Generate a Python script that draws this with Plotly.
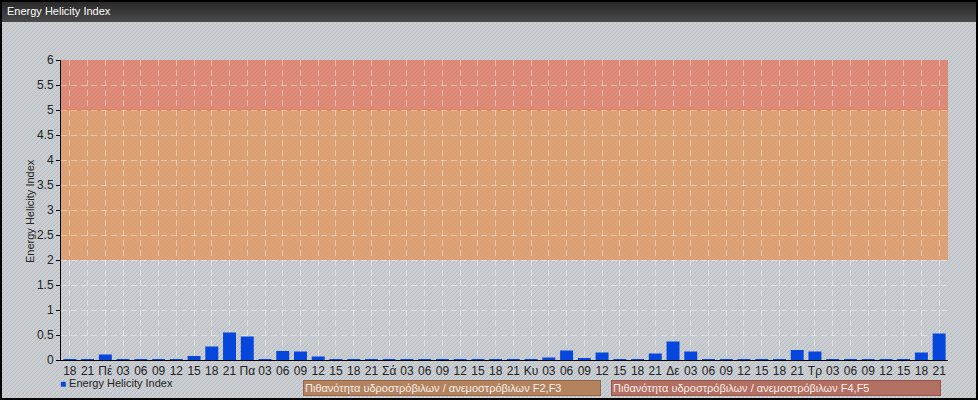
import base64
import plotly.graph_objects as go

# ---- data ----
tick_labels = ["18", "21",
               "Πέ", "03", "06", "09", "12", "15", "18", "21",
               "Πα", "03", "06", "09", "12", "15", "18", "21",
               "Σά", "03", "06", "09", "12", "15", "18", "21",
               "Κυ", "03", "06", "09", "12", "15", "18", "21",
               "Δε", "03", "06", "09", "12", "15", "18", "21",
               "Τρ", "03", "06", "09", "12", "15", "18", "21"]
ehi_values = [0.02, 0.02,
              0.11, 0.02, 0.02, 0.02, 0.02, 0.08, 0.27, 0.55,
              0.47, 0.02, 0.18, 0.17, 0.07, 0.02, 0.02, 0.02,
              0.02, 0.02, 0.02, 0.02, 0.02, 0.02, 0.02, 0.02,
              0.02, 0.05, 0.19, 0.04, 0.15, 0.02, 0.02, 0.13,
              0.37, 0.17, 0.02, 0.02, 0.02, 0.02, 0.02, 0.20,
              0.17, 0.02, 0.02, 0.02, 0.02, 0.02, 0.15, 0.53]
x_pos = list(range(len(tick_labels)))

band_f2f3 = (2, 5)
band_f4f5 = (5, 6)
series_name = "Energy Helicity Index"
chart_title = "Energy Helicity Index"
y_title = "Energy Helicity Index"
band_names = ["Πιθανότητα υδροστρόβιλων / ανεμοστρόβιλων F2,F3",
              "Πιθανότητα υδροστρόβιλων / ανεμοστρόβιλων F4,F5"]

W, H = 978, 400
L, R, T, B = 61, 30, 60, 40
PW, PH = W - L - R, H - T - B
BAR_COLOR = "#0547dc"
FONT = "Liberation Sans, Arial"

def px_x(p):
    return (p - L) / PW

def px_y(p):
    return (H - B - p) / PH

# background: hatched grey, dark title bar, black frame
svg = f'''<svg xmlns="http://www.w3.org/2000/svg" width="{W}" height="{H}" viewBox="0 0 {W} {H}">
<defs>
<pattern id="h" width="4" height="4" patternUnits="userSpaceOnUse">
<rect width="4" height="4" fill="#cbcfd3"/>
<path d="M-1,1 l2,-2 M0,4 l4,-4 M3,5 l2,-2" stroke="#b6bbc0" stroke-width="1"/>
</pattern>
<linearGradient id="g" x1="0" y1="0" x2="0" y2="1">
<stop offset="0" stop-color="#262626"/><stop offset="1" stop-color="#4a4a4a"/>
</linearGradient>
</defs>
<rect width="{W}" height="{H}" fill="url(#h)"/>
<rect width="{W}" height="22" fill="url(#g)"/>
<rect x="1" y="1" width="{W-2}" height="{H-2}" fill="none" stroke="#000" stroke-width="2"/>
</svg>'''
src = "data:image/svg+xml;base64," + base64.b64encode(svg.encode()).decode()

fig = go.Figure()
fig.add_trace(go.Bar(x=x_pos, y=ehi_values, name=series_name,
                     marker=dict(color=BAR_COLOR, line=dict(width=0)),
                     showlegend=False))

shapes = [
    dict(type="rect", xref="x", yref="y", x0=-0.5, x1=len(x_pos) - 0.5,
         y0=band_f2f3[0], y1=band_f2f3[1], fillcolor="rgba(226,150,92,0.78)",
         line=dict(width=0), layer="below"),
    dict(type="rect", xref="x", yref="y", x0=-0.5, x1=len(x_pos) - 0.5,
         y0=band_f4f5[0], y1=band_f4f5[1], fillcolor="rgba(228,114,86,0.72)",
         line=dict(width=0), layer="below"),
    dict(type="line", xref="x", yref="y", x0=-0.5, x1=len(x_pos) - 0.5,
         y0=band_f4f5[0], y1=band_f4f5[0], line=dict(color="rgba(232,110,60,0.8)", width=1),
         layer="below"),
]

annotations = [
    dict(text=chart_title, xref="paper", yref="paper",
         x=px_x(5), y=px_y(11), xanchor="left", yanchor="middle", showarrow=False,
         font=dict(family=FONT, size=11, color="#ffffff")),
    dict(text=y_title, xref="paper", yref="paper", textangle=-90,
         x=px_x(30), y=px_y(211), xanchor="center", yanchor="middle", showarrow=False,
         font=dict(family=FONT, size=11, color="#222222")),
    dict(text=f"<span style='color:{BAR_COLOR};font-size:10px'>■</span> {series_name}",
         xref="paper", yref="paper",
         x=px_x(58), y=px_y(383), xanchor="left", yanchor="middle", showarrow=False,
         font=dict(family=FONT, size=11, color="#222222")),
    dict(text=band_names[0], xref="paper", yref="paper",
         x=px_x(303), y=px_y(380), xanchor="left", yanchor="top", showarrow=False,
         align="left", width=294, height=12, borderpad=1, borderwidth=1,
         bgcolor="#b3835f", bordercolor="#946648",
         font=dict(family=FONT, size=11, color="#f6eee8")),
    dict(text=band_names[1], xref="paper", yref="paper",
         x=px_x(611), y=px_y(380), xanchor="left", yanchor="top", showarrow=False,
         align="left", width=326, height=12, borderpad=1, borderwidth=1,
         bgcolor="#b36f62", bordercolor="#95564b",
         font=dict(family=FONT, size=11, color="#f6eee8")),
]

fig.update_layout(
    width=W, height=H,
    margin=dict(l=L, r=R, t=T, b=B, pad=0),
    paper_bgcolor="#cbcfd3", plot_bgcolor="rgba(0,0,0,0)",
    font=dict(family=FONT, size=12, color="#222222"),
    bargap=0.27,
    shapes=shapes, annotations=annotations,
    images=[dict(source=src, xref="paper", yref="paper", x=px_x(0), y=px_y(0),
                 sizex=W / PW, sizey=H / PH, xanchor="left", yanchor="top",
                 sizing="stretch", layer="below")],
    showlegend=False,
)
fig.update_xaxes(range=[-0.5, len(x_pos) - 0.5], tickmode="array",
                 tickvals=x_pos, ticktext=tick_labels, tickangle=0,
                 showline=True, linecolor="#000000", linewidth=1,
                 showgrid=True, gridcolor="rgba(255,255,255,0.4)", griddash="6px,4px",
                 gridwidth=1, ticks="", zeroline=False,
                 tickfont=dict(size=12, color="#222222"))
fig.update_yaxes(range=[0, 6], dtick=0.5, tick0=0,
                 showline=True, linecolor="#000000", linewidth=1,
                 ticks="outside", ticklen=4, tickcolor="#000000",
                 showgrid=True, gridcolor="rgba(255,255,255,0.4)", griddash="6px,4px",
                 zeroline=False,
                 tickfont=dict(size=12, color="#222222"))

fig.write_html("out.html", config={"displayModeBar": False},
               post_script="document.body.style.margin='0';document.body.style.overflow='hidden';")
